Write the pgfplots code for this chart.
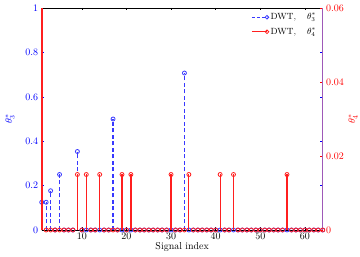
\documentclass[border=0pt]{standalone}
\usepackage{pgfplots}
\pgfplotsset{compat=1.18}
\usepackage{pgfplotstable}
\definecolor{spine}{rgb}{0.62,0.35,0.72}
\definecolor{stemblue}{rgb}{0.22,0.22,1}
\definecolor{stemred}{rgb}{1,0.12,0.12}

% theta_3^* (left axis)
\pgfplotstableread{
x y
1 0.125
2 0.125
3 0.1768
4 0
5 0.25
6 0
7 0
8 0
9 0.3536
10 0
11 0
12 0
13 0
14 0
15 0
16 0
17 0.5
18 0
19 0
20 0
21 0
22 0
23 0
24 0
25 0
26 0
27 0
28 0
29 0
30 0
31 0
32 0
33 0.7071
34 0
35 0
36 0
37 0
38 0
39 0
40 0
41 0
42 0
43 0
44 0
45 0
46 0
47 0
48 0
49 0
50 0
51 0
52 0
53 0
54 0
55 0
56 0
57 0
58 0
59 0
60 0
61 0
62 0
63 0
64 0
}\thetathree

% theta_4^* (right axis), indices 2..64 (index 1 reaches the top of the axis)
\pgfplotstableread{
x y
2 0
3 0
4 0
5 0
6 0
7 0
8 0
9 0.015
10 0
11 0.015
12 0
13 0
14 0.015
15 0
16 0
17 0
18 0
19 0.015
20 0
21 0.015
22 0
23 0
24 0
25 0
26 0
27 0
28 0
29 0
30 0.015
31 0
32 0
33 0
34 0.015
35 0
36 0
37 0
38 0
39 0
40 0
41 0.015
42 0
43 0
44 0.015
45 0
46 0
47 0
48 0
49 0
50 0
51 0
52 0
53 0
54 0
55 0
56 0.015
57 0
58 0
59 0
60 0
61 0
62 0
63 0
64 0
}\thetafour

\begin{document}
\begin{tikzpicture}
\useasboundingbox (-41.7bp,-27bp) rectangle (318.3bp,230bp);
\pgfplotsset{
  common/.style={
    scale only axis, width=281bp, height=222bp,
    xmin=1, xmax=64,
    tick align=inside, major tick length=2.5bp,
    font=\fontsize{10}{12}\selectfont,
    every tick label/.append style={font=\fontsize{10}{12}\selectfont},
  },
}
\begin{axis}[common,
  ymin=0, ymax=1,
  xtick={10,20,30,40,50,60},
  ytick={0,0.2,0.4,0.6,0.8,1},
  separate axis lines,
  x axis line style={draw=black, line width=0.6bp},
  y axis line style={draw=spine, line width=0.8bp},
  xtick style={draw=black, line width=0.5bp},
  ytick style={draw=blue, line width=0.5bp},
  yticklabel style={text=blue},
  xlabel={Signal index},
  xlabel style={at={([yshift=-19bp]axis description cs:0.5,0)}, anchor=base},
  ylabel={$\theta^{*}_{3}$},
  every axis y label/.style={text=blue, at={([xshift=-31.7bp]axis description cs:0,0.5)}, anchor=center, rotate=90},
]
\addplot[stemblue, ycomb, line width=1.2bp, dash pattern=on 4bp off 2.5bp,
  mark=o, mark size=2bp, mark options={solid, line width=0.8bp}]
  table[x=x, y=y] {\thetathree};
\end{axis}
\begin{axis}[common,
  ymin=0, ymax=0.06,
  clip=false,
  axis x line=none,
  axis y line*=right,
  y axis line style={draw=spine, line width=0.8bp},
  ytick={0,0.02,0.04,0.06},
  scaled y ticks=false,
  yticklabel style={text=red, /pgf/number format/fixed, /pgf/number format/precision=2},
  ytick style={draw=red, line width=0.5bp},
  ylabel={$\theta^{*}_{4}$},
  every axis y label/.style={text=red, at={([xshift=30.3bp]axis description cs:1,0.5)}, anchor=center, rotate=90},
  legend style={at={(1,1)}, anchor=north east, draw=none, fill=none,
    font=\fontsize{9}{10}\selectfont, row sep=3.5bp, xshift=-2bp, yshift=-1.5bp,
    nodes={inner sep=1.5bp}},
  legend cell align=left,
]
\addlegendimage{legend image code/.code={
  \draw[stemblue, line width=1.1bp, dash pattern=on 3bp off 2bp] (0bp,0bp) -- (15bp,0bp);
  \draw[stemblue, line width=0.8bp] (15bp,0bp) circle (1.8bp);}}
\addlegendentry{DWT,\hspace{11bp}$\theta^{*}_{3}$}
\addplot[stemred, ycomb, line width=1.6bp, forget plot] coordinates {(1,0.06)};
\addplot[stemred, ycomb, line width=1.2bp,
  mark=o, mark size=2bp, mark options={solid, line width=0.8bp},
  legend image code/.code={
  \draw[stemred, line width=1.1bp] (0bp,0bp) -- (15bp,0bp);
  \draw[stemred, line width=0.8bp] (15bp,0bp) circle (1.8bp);}]
  table[x=x, y=y] {\thetafour};
\addlegendentry{DWT,\hspace{11bp}$\theta^{*}_{4}$}
\end{axis}
\end{tikzpicture}
\end{document}
